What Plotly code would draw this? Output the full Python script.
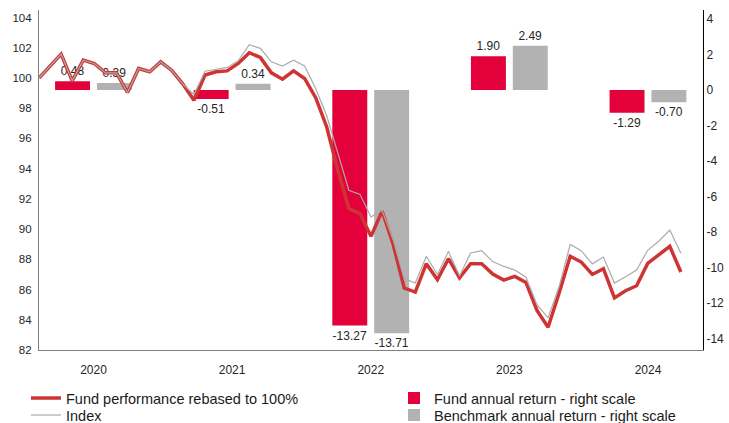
import plotly.graph_objects as go

# ---- data ----
years = ["2020", "2021", "2022", "2023", "2024"]
fund_annual = [0.48, -0.51, -13.27, 1.90, -1.29]
bench_annual = [0.39, 0.34, -13.71, 2.49, -0.70]

fund_perf = [100.0, 100.8, 101.58, 99.81, 101.18, 100.96, 100.34, 100.34, 99.04, 100.63,
             100.41, 101.07, 100.5, 99.6, 98.53, 100.2, 100.41, 100.47, 100.96, 101.67,
             101.36, 100.34, 99.92, 100.47, 99.97, 98.7, 96.76, 93.9, 91.36, 91.03,
             89.52, 91.2, 89.0, 86.1, 85.83, 87.71, 86.65, 88.04, 86.77, 87.71,
             87.71, 87.03, 86.63, 86.87, 86.47, 84.62, 83.51, 85.77, 88.2, 87.82,
             87.0, 87.38, 85.45, 85.92, 86.25, 87.73, 88.3, 88.86, 87.16]
index_perf = [100.0, 100.8, 101.58, 99.81, 101.18, 100.96, 100.34, 100.34, 99.04, 100.63,
              100.41, 101.07, 100.5, 99.6, 98.9, 100.45, 100.56, 100.7, 101.14, 102.2,
              101.96, 101.07, 100.79, 101.18, 100.79, 99.3, 97.5, 95.0, 92.57, 92.3,
              90.8, 91.24, 89.3, 86.72, 86.43, 88.2, 87.0, 88.53, 86.9, 88.42,
              88.57, 87.85, 87.53, 87.29, 86.82, 85.0, 84.13, 86.2, 88.99, 88.57,
              87.7, 88.15, 86.43, 86.85, 87.29, 88.6, 89.2, 89.94, 88.4]
months = list(range(len(fund_perf)))

left_ticks = [82, 84, 86, 88, 90, 92, 94, 96, 98, 100, 102, 104]
right_ticks = [-14, -12, -10, -8, -6, -4, -2, 0, 2, 4]
right_tick_labels = ["-14", "-12", "-10", "-8", "-6", "-4", "-2", "0", "2", "4"]

FONT = "Liberation Sans, Arial, sans-serif"
LEG_FONT = dict(family=FONT, size=14.5, color="#1A1A1A")

fig = go.Figure()

fig.add_trace(go.Bar(
    x=years, y=fund_annual, name="Fund annual return - right scale",
    marker=dict(color="#E4003A", line=dict(width=0)),
    width=0.252, offset=-0.277,
    text=[f"{v:.2f}" for v in fund_annual], textposition="outside",
    textfont=dict(family=FONT, size=12, color="#262626"),
    cliponaxis=False, legend="legend2",
    xaxis="x", yaxis="y",
))
fig.add_trace(go.Bar(
    x=years, y=bench_annual, name="Benchmark annual return - right scale",
    marker=dict(color="#B2B2B2", line=dict(width=0)),
    width=0.252, offset=0.025,
    text=[f"{v:.2f}" for v in bench_annual], textposition="outside",
    textfont=dict(family=FONT, size=12, color="#262626"),
    cliponaxis=False, legend="legend4",
    xaxis="x", yaxis="y",
))
fig.add_trace(go.Scatter(
    x=months, y=fund_perf, mode="lines", name="Fund performance rebased to 100%",
    line=dict(color="#CF3434", width=3.5),
    xaxis="x2", yaxis="y2", legend="legend",
))
fig.add_trace(go.Scatter(
    x=months, y=index_perf, mode="lines", name="Index",
    line=dict(color="#ABABAB", width=1.2),
    xaxis="x2", yaxis="y2", legend="legend3",
))

row1_y = -0.0944
row2_y = -0.1444
col1_x = -0.0196
col2_x = 0.5346

fig.update_layout(
    width=729, height=423,
    margin=dict(l=39, r=26, t=10, b=73, autoexpand=False),
    paper_bgcolor="white", plot_bgcolor="white",
    font=dict(family=FONT, size=12, color="#262626"),
    barmode="overlay",
    showlegend=True,
    xaxis=dict(
        type="category", range=[-0.393, 4.397], automargin=False,
        showline=True, linecolor="#7F7F7F", linewidth=1.2,
        showgrid=False, zeroline=False,
        ticks="outside", ticklen=8, tickcolor="rgba(0,0,0,0)",
        tickfont=dict(family=FONT, size=12, color="#262626"),
    ),
    yaxis=dict(
        side="right", range=[-14.65, 4.5], automargin=False,
        tickvals=right_ticks, ticktext=right_tick_labels,
        showline=True, linecolor="#000000", linewidth=1,
        showgrid=False, zeroline=False, ticks="",
        tickfont=dict(family=FONT, size=12, color="#262626"),
    ),
    xaxis2=dict(overlaying="x", range=[0, 60], visible=False, anchor="y2"),
    yaxis2=dict(
        overlaying="y", side="left", anchor="x", range=[82, 104.5], automargin=False,
        tickvals=left_ticks,
        showline=True, linecolor="#7F7F7F", linewidth=1.2,
        showgrid=False, zeroline=False,
        ticks="outside", ticklen=4, tickcolor="rgba(0,0,0,0)",
        tickfont=dict(family=FONT, size=11.5, color="#262626"),
    ),
    legend=dict(x=col1_x, xanchor="left", y=row1_y, yanchor="top",
                bgcolor="rgba(0,0,0,0)", font=LEG_FONT),
    legend2=dict(x=col2_x, xanchor="left", y=row1_y, yanchor="top",
                 bgcolor="rgba(0,0,0,0)", font=LEG_FONT),
    legend3=dict(x=col1_x, xanchor="left", y=row2_y, yanchor="top",
                 bgcolor="rgba(0,0,0,0)", font=LEG_FONT),
    legend4=dict(x=col2_x, xanchor="left", y=row2_y, yanchor="top",
                 bgcolor="rgba(0,0,0,0)", font=LEG_FONT),
)

fig.write_html(
    "out.html",
    config={"displayModeBar": False},
    post_script="document.body.style.margin='0';document.body.style.overflow='hidden';",
)
